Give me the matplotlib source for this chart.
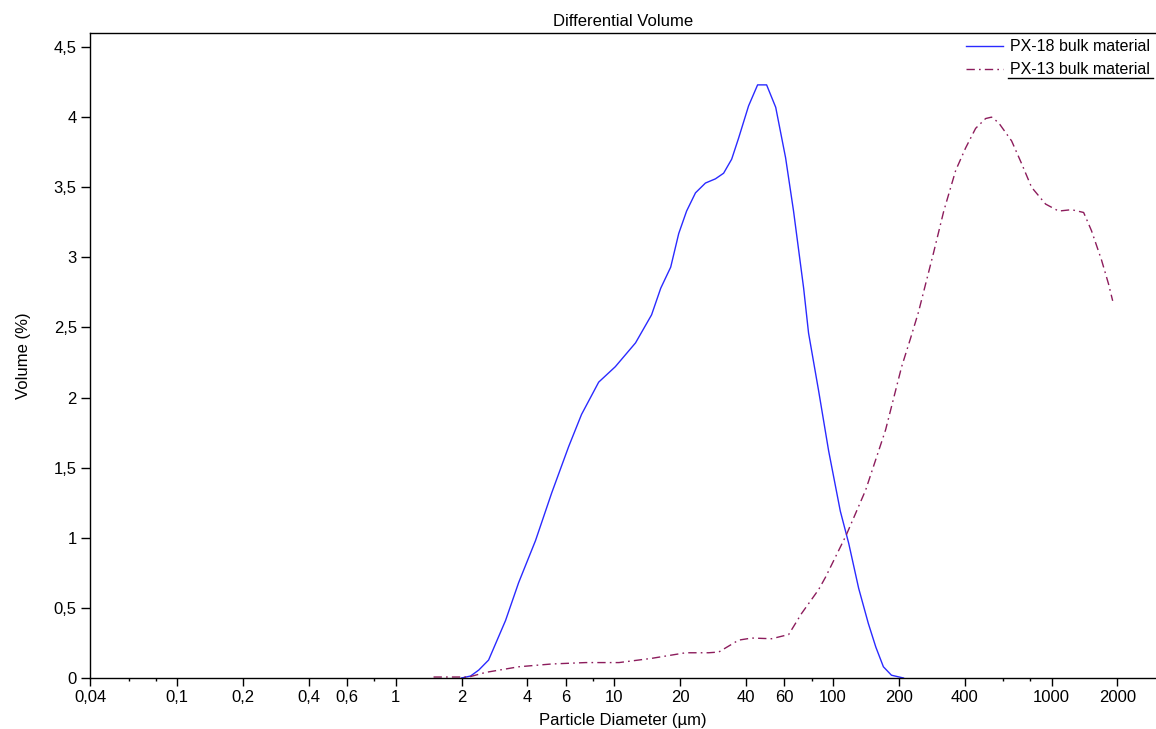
import matplotlib
matplotlib.use("Agg")
import matplotlib.pyplot as plt
from matplotlib.ticker import FixedLocator, FuncFormatter, NullFormatter
from matplotlib.lines import Line2D

plt.rcParams['font.family'] = ['Liberation Sans', 'DejaVu Sans']

# PX-18 bulk material (solid blue)
d18 = [2.0, 2.2, 2.4, 2.66, 3.18, 3.65, 4.36, 5.17, 6.18, 7.08, 8.48, 10.1, 12.5,
       14.8, 16.3, 18.1, 19.7, 21.4, 23.5, 26.1, 29.0, 31.6, 34.4, 37.0, 41.1,
       45.2, 49.7, 54.7, 60.7, 66.0, 73.4, 77.3, 85.9, 95.5, 108, 118, 131, 145,
       157, 170, 185, 210]
v18 = [0.0, 0.014, 0.057, 0.128, 0.41, 0.68, 0.98, 1.32, 1.65, 1.88, 2.11, 2.22, 2.39,
       2.59, 2.78, 2.93, 3.17, 3.33, 3.46, 3.53, 3.56, 3.60, 3.70, 3.85, 4.08,
       4.23, 4.23, 4.07, 3.71, 3.33, 2.78, 2.46, 2.05, 1.62, 1.19, 0.96, 0.64, 0.39,
       0.22, 0.08, 0.02, 0.0]

# PX-13 bulk material (dash-dot maroon)
d13 = [1.49, 2.16, 2.58, 3.65, 5.17, 7.39, 10.5, 14.8, 21.2, 27.0, 30.0, 37.0, 42.5,
       52.4, 62.7, 71.8, 85.9, 92.5, 115, 141, 174, 206, 226, 246, 288, 321, 364,
       404, 449, 499, 531, 572, 656, 728, 809, 938, 1076, 1233, 1400, 1521, 1691,
       1820, 1901]
v13 = [0.007, 0.007, 0.04, 0.08, 0.10, 0.11, 0.11, 0.14, 0.18, 0.18, 0.185, 0.27, 0.285,
       0.28, 0.31, 0.46, 0.63, 0.72, 1.02, 1.34, 1.77, 2.22, 2.42, 2.61, 3.03, 3.33, 3.62,
       3.78, 3.92, 3.99, 4.00, 3.96, 3.83, 3.67, 3.50, 3.38, 3.33, 3.34, 3.32, 3.19, 2.98,
       2.81, 2.69]

xmajor = [0.04, 0.1, 0.2, 0.4, 0.6, 1, 2, 4, 6, 10, 20, 40, 60, 100, 200, 400, 1000, 2000]
xminor = [0.06, 0.08, 0.8, 8, 80, 600, 800]
yticks = [0, 0.5, 1, 1.5, 2, 2.5, 3, 3.5, 4, 4.5]


def comma(v, pos=None):
    return ('%g' % v).replace('.', ',')


fig = plt.figure(figsize=(11.56, 7.29), dpi=100)
ax = fig.add_axes([90 / 1156, 51 / 729, 1066 / 1156, 645 / 729])

ax.plot(d18, v18, color='#2a2aff', lw=1.0, label='PX-18 bulk material')
ax.plot(d13, v13, color='#8c1c5c', lw=1.0, linestyle=(0, (6, 3, 1.2, 3)),
        label='PX-13 bulk material')

ax.set_xscale('log')
ax.set_xlim(0.04, 3000)
ax.set_ylim(0, 4.6)

ax.xaxis.set_major_locator(FixedLocator(xmajor))
ax.xaxis.set_minor_locator(FixedLocator(xminor))
ax.xaxis.set_major_formatter(FuncFormatter(comma))
ax.xaxis.set_minor_formatter(NullFormatter())
ax.yaxis.set_major_locator(FixedLocator(yticks))
ax.yaxis.set_major_formatter(FuncFormatter(comma))

ax.tick_params(axis='x', which='major', direction='out', length=6, width=1,
               labelsize=12, pad=2.5)
ax.tick_params(axis='x', which='minor', direction='out', length=2.5, width=1)
ax.tick_params(axis='y', which='major', direction='out', length=6.5, width=1,
               labelsize=12, pad=3)

ax.spines['right'].set_visible(False)
for s in ['left', 'bottom', 'top']:
    ax.spines[s].set_linewidth(1.0)

ax.set_title('Differential Volume', fontsize=12, pad=5)
ax.set_xlabel('Particle Diameter (µm)', fontsize=12, labelpad=6)
ax.set_ylabel('Volume (%)', fontsize=12, labelpad=16)

ax.legend(loc='upper right', bbox_to_anchor=(1.0, 1.0), frameon=False,
          fontsize=11.5, handlelength=2.3, handletextpad=0.4,
          labelspacing=0.5, borderaxespad=0.2, borderpad=0.2)
fig.add_artist(Line2D([1008 / 1156, 1153 / 1156], [1 - 78 / 729, 1 - 78 / 729],
                      color='black', lw=1.0, transform=fig.transFigure))

fig.savefig('out.png', dpi=100)
